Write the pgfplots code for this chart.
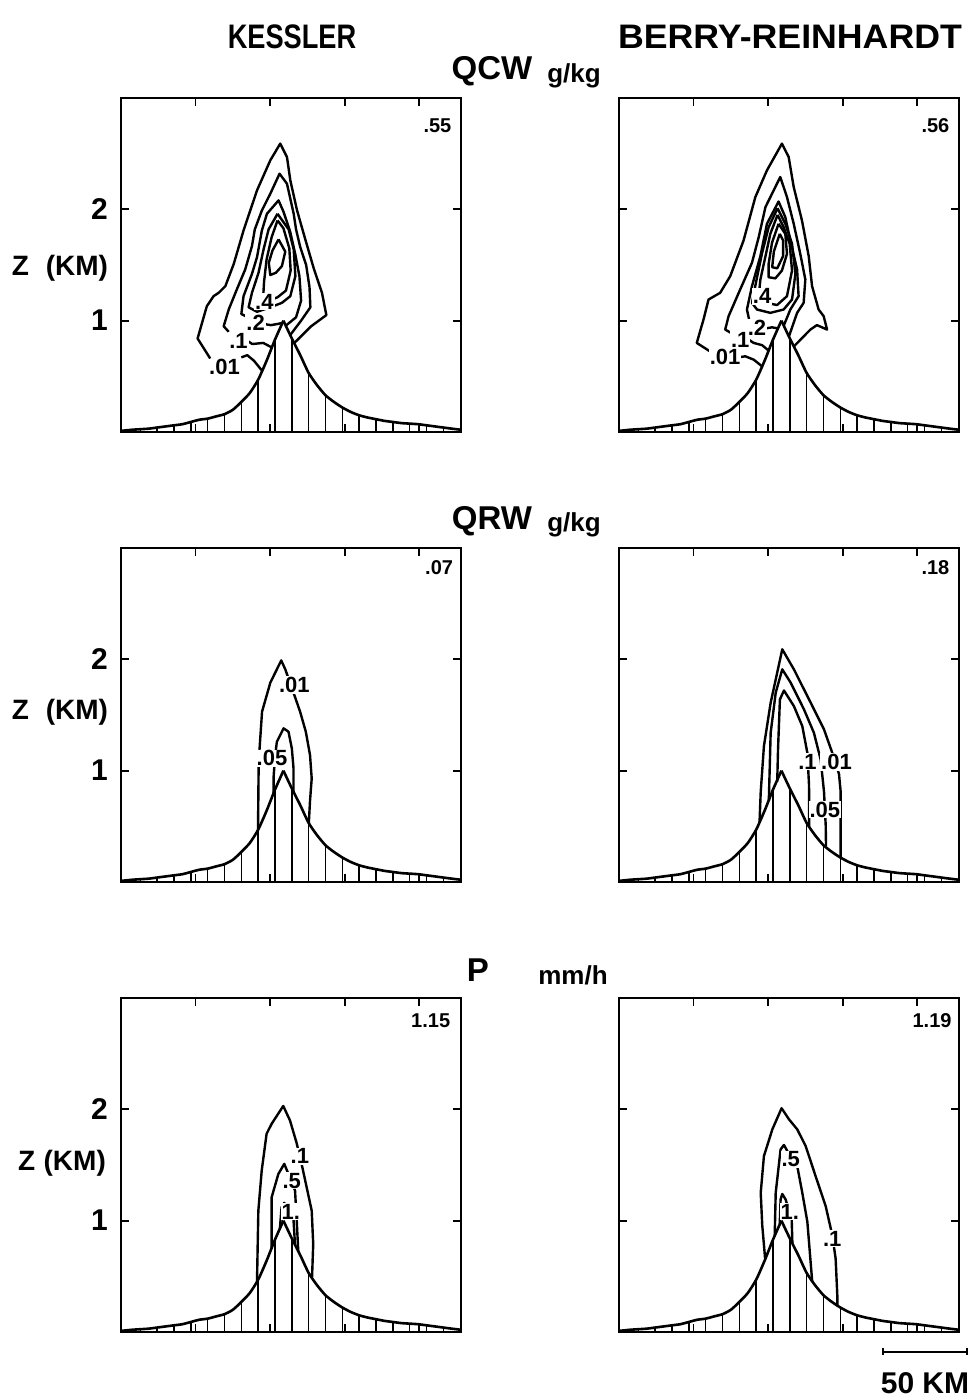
\documentclass[border=0pt]{standalone}
\usepackage{fontspec}
\setmainfont{Liberation Sans}
\usepackage{pgfplots}
\pgfplotsset{compat=1.18}
\usepackage{pgfplotstable}

% terrain profile (km, km)
\pgfplotstableread{
x h
0 0.01
1.5 0.012
6.5 0.02
11.5 0.025
16.5 0.03
21.5 0.04
26.5 0.05
31.5 0.06
36.5 0.07
41.5 0.09
46.5 0.11
51.5 0.12
56.5 0.14
61.5 0.16
66.5 0.20
71.5 0.27
76.5 0.35
81.5 0.47
86.5 0.64
91.5 0.83
96.5 1.0
101.5 0.84
106.5 0.69
111.5 0.53
116.5 0.42
121.5 0.33
126.5 0.27
131.5 0.22
136.5 0.18
141.5 0.15
146.5 0.13
151.5 0.115
156.5 0.10
161.5 0.09
166.5 0.08
171.5 0.075
176.5 0.07
181.5 0.06
186.5 0.05
191.5 0.04
196.5 0.03
202 0.02
}\mtn

% hatching at the grid points
\pgfplotstableread{
x h
1.5 0.012
11.5 0.025
21.5 0.04
31.5 0.06
41.5 0.09
51.5 0.12
61.5 0.16
71.5 0.27
81.5 0.47
91.5 0.83
101.5 0.84
111.5 0.53
121.5 0.33
131.5 0.22
141.5 0.15
151.5 0.115
161.5 0.09
171.5 0.075
181.5 0.06
191.5 0.04
}\hatch

\pgfplotsset{
  panel/.style={
    anchor=south west,
    scale only axis, width=170pt, height=167pt,
    xmin=0, xmax=202, ymin=0, ymax=3,
    xtick={44.3,88.6,132.9,177.2}, xticklabels={},
    ytick={1,2}, yticklabels={},
    tick align=inside, major tick length=4pt,
    axis line style={line width=1.1pt},
    every tick/.style={black, line width=0.9pt},
  },
  lefttk/.style={yticklabels={1,2},
    yticklabel style={font=\bfseries\fontsize{15}{15}\selectfont, xshift=-3pt}},
  cont/.style={black, line width=1.2pt, line join=round, mark=none},
}
\tikzset{
  lab/.style={font=\bfseries\fontsize{11}{11}\selectfont, inner sep=0.5pt, fill=white},
  corner/.style={font=\bfseries\fontsize{10}{10}\selectfont, inner sep=0pt},
  zlab/.style={font=\bfseries\fontsize{14}{14}\selectfont},
}
% hatching, then the two flanks of the ridge, smooth on each side of the peak
\newcommand\mountain{%
  \addplot[ycomb, black, line width=0.7pt, mark=none] table {\hatch};
  \addplot[black, line width=1.3pt, mark=none, smooth, tension=0.4,
    restrict x to domain=0:96.5] table {\mtn};
  \addplot[black, line width=1.3pt, mark=none, smooth, tension=0.4,
    restrict x to domain=96.5:202] table {\mtn};
}

\begin{document}
\begin{tikzpicture}
\path[use as bounding box] (0,0) rectangle (484pt,699pt);

% ---- row 1: QCW ----
\begin{axis}[panel, lefttk, at={(60.5pt,483pt)}]
\mountain
\addplot[cont] coordinates {(83.8,0.55) (79,0.64) (75,0.69) (71.5,0.67)};
\addplot[cont] coordinates {(53,0.66) (45.5,0.84) (51,1.13) (55,1.22) (58,1.25) (62,1.31) (67,1.51) (72.8,1.81) (80.8,2.17) (88.7,2.44) (94.6,2.59) (98.6,2.47) (100.6,2.26) (104.6,1.99) (109.5,1.73) (114.5,1.47) (119.4,1.25) (122,1.05) (113,0.95) (103,0.80)};
\addplot[cont] coordinates {(75,0.82) (78,0.79) (84.5,0.80) (89.5,0.76)};
\addplot[cont] coordinates {(64,0.90) (61,0.95) (64,1.10) (68.8,1.28) (73.8,1.46) (77.8,1.67) (79.5,1.82) (83.7,1.99) (88.7,2.14) (94.2,2.32) (98.6,2.23) (102.6,1.96) (104,1.82) (106.5,1.66) (110,1.50) (112,1.30) (112.5,1.12) (107,1.0) (100.5,0.87)};
\addplot[cont] coordinates {(85,0.97) (89,0.96) (93,0.97) (95.8,0.98)};
\addplot[cont] coordinates {(75.5,1.03) (71.5,1.06) (72.8,1.22) (77.8,1.42) (80.8,1.57) (83.7,1.81) (86.7,1.96) (93.6,2.08) (96.5,1.98) (100.5,1.80) (103.5,1.60) (106,1.40) (107,1.18) (104,1.03) (98.3,0.96)};
\addplot[cont] coordinates {(93,1.96) (87.7,1.82) (84.7,1.64) (81.7,1.43) (77.8,1.25) (75.8,1.12) (80.8,1.08) (88.7,1.12) (95.6,1.16) (100.6,1.22) (103.6,1.40) (102.6,1.64) (99.6,1.82) (93,1.96)};
\addplot[cont] coordinates {(93,1.90) (89.5,1.75) (86.5,1.55) (85,1.35) (84.5,1.22) (88,1.18) (93,1.21) (98,1.27) (100.8,1.45) (100,1.65) (96.5,1.83) (93,1.90)};
\addplot[cont] coordinates {(93.6,1.73) (90,1.63) (87.8,1.52) (88.7,1.41) (92,1.43) (95.6,1.49) (97.6,1.62) (93.6,1.73)};
\node[lab] at (axis cs:61.5,0.58) {.01};
\node[lab] at (axis cs:69.8,0.82) {.1};
\node[lab] at (axis cs:80,0.98) {.2};
\node[lab] at (axis cs:85.2,1.17) {.4};
\node[corner] at (axis cs:188,2.75) {.55};
\end{axis}

\begin{axis}[panel, at={(309.5pt,483pt)}]
\mountain
\addplot[cont] coordinates {(85,0.59) (80,0.65) (75,0.68) (71,0.67)};
\addplot[cont] coordinates {(54.5,0.72) (46.2,0.80) (50.2,1.01) (53.2,1.19) (60.1,1.25) (66.1,1.40) (74,1.72) (81,2.11) (87.9,2.35) (96.8,2.59) (100.8,2.47) (103.8,2.20) (108.7,1.90) (112.7,1.58) (114.7,1.31) (118.6,1.10) (121.6,1.04) (123.6,0.92) (117.6,0.96) (113.7,0.92) (104,0.77)};
\addplot[cont] coordinates {(77,0.83) (80,0.80) (85,0.78) (89,0.73)};
\addplot[cont] coordinates {(66.5,0.89) (63.1,0.92) (65.1,1.04) (72,1.28) (79,1.52) (83,1.75) (87,2.02) (95.8,2.29) (99.8,2.11) (103.8,1.87) (107.7,1.60) (110.7,1.37) (109.7,1.16) (105.8,1.07) (101,0.86)};
\addplot[cont] coordinates {(87,0.93) (91,0.94) (94.5,0.93)};
\addplot[cont] coordinates {(77.6,0.99) (76,1.1) (79,1.31) (84,1.58) (87.9,1.87) (94.8,2.07) (98.8,1.93) (101.8,1.72) (105.8,1.46) (106.7,1.22) (101.8,1.10) (98,0.96)};
\addplot[cont] coordinates {(94.2,2.01) (88.9,1.84) (84.9,1.60) (82,1.39) (79,1.16) (82,1.10) (89.9,1.07) (97.8,1.10) (102.8,1.19) (104.8,1.42) (102.8,1.69) (98.8,1.87) (94.2,2.01)};
\addplot[cont] coordinates {(94.2,1.95) (89.9,1.78) (86.9,1.57) (84,1.37) (83,1.22) (87.9,1.16) (93.9,1.14) (99.8,1.22) (102.8,1.45) (101.4,1.69) (97.8,1.84) (94.2,1.95)};
\addplot[cont] coordinates {(94.8,1.87) (90.9,1.70) (88.9,1.51) (88.9,1.39) (92.9,1.38) (96.8,1.45) (99.8,1.60) (98.8,1.78) (94.8,1.87)};
\addplot[cont] coordinates {(95.5,1.78) (92,1.62) (91,1.48) (94,1.47) (97.5,1.58) (97.5,1.72) (95.5,1.78)};
\node[lab] at (axis cs:63,0.67) {.01};
\node[lab] at (axis cs:72,0.83) {.1};
\node[lab] at (axis cs:82,0.94) {.2};
\node[lab] at (axis cs:85,1.22) {.4};
\node[corner] at (axis cs:188,2.75) {.56};
\end{axis}

% ---- row 2: QRW ----
\begin{axis}[panel, lefttk, at={(60.5pt,258pt)}]
\mountain
\addplot[cont] coordinates {(81.4,0.47) (81.8,1.08) (83.8,1.53) (88.7,1.79) (95.2,1.99) (97.6,1.91) (102.5,1.70) (106.4,1.53) (109.8,1.35) (112.3,1.14) (113.3,0.93) (112.3,0.73) (111.6,0.53)};
\addplot[cont] coordinates {(90.7,0.80) (90.7,0.95) (91.5,1.12) (92.6,1.26) (96.6,1.38) (99.5,1.35) (101.5,1.20) (102.5,1.02) (102.5,0.81)};
\node[lab] at (axis cs:103,1.77) {.01};
\node[lab] at (axis cs:89.7,1.11) {.05};
\node[corner] at (axis cs:189,2.82) {.07};
\end{axis}

\begin{axis}[panel, at={(309.5pt,258pt)}]
\mountain
\addplot[cont] coordinates {(83.5,0.54) (84.2,0.81) (86.1,1.22) (90.1,1.61) (97,2.09) (103.9,1.91) (113.9,1.61) (121.8,1.37) (126.7,1.16) (130.7,0.97) (131.7,0.81) (131.7,0.50) (131.7,0.22)};
\addplot[cont] coordinates {(89,0.73) (89.5,1.0) (90.1,1.34) (93.1,1.70) (97,1.91) (102,1.79) (109.9,1.55) (115.8,1.34) (119.8,1.10) (121.8,0.81) (122.8,0.51) (123,0.32)};
\addplot[cont] coordinates {(94,0.90) (94.5,1.20) (95,1.40) (95.6,1.64) (98,1.72) (103.9,1.58) (108.9,1.40) (111.9,1.16) (112.9,0.87) (113,0.50)};
\node[lab] at (axis cs:112,1.08) {.1};
\node[lab] at (axis cs:129.2,1.08) {.01};
\node[lab] at (axis cs:122.3,0.65) {.05};
\node[corner] at (axis cs:188,2.82) {.18};
\end{axis}

% ---- row 3: P ----
\begin{axis}[panel, lefttk, at={(60.5pt,33pt)}]
\mountain
\addplot[cont] coordinates {(80.8,0.45) (81.6,1.09) (83.6,1.45) (86.5,1.78) (89.5,1.87) (96.4,2.03) (100.4,1.90) (104.3,1.70) (107.3,1.51) (110.3,1.30) (113.3,1.09) (114.2,0.79) (113.5,0.49)};
\addplot[cont] coordinates {(89.5,0.75) (89.5,1.21) (93.5,1.42) (97,1.51) (100,1.40) (103.4,1.27) (104.3,1.03) (105.3,0.73)};
\addplot[cont] coordinates {(94.4,0.93) (95.4,1.12) (97,1.16) (99,1.09) (102.4,1.03) (103.4,0.78)};
\node[lab] at (axis cs:106.3,1.58) {.1};
\node[lab] at (axis cs:101.4,1.36) {.5};
\node[lab] at (axis cs:100.9,1.08) {1.};
\node[corner] at (axis cs:184,2.8) {1.15};
\end{axis}

\begin{axis}[panel, at={(309.5pt,33pt)}]
\mountain
\addplot[cont] coordinates {(86.8,0.66) (85.1,0.96) (84.2,1.25) (86.1,1.58) (91.1,1.82) (96.6,2.01) (101,1.91) (105.9,1.82) (110.9,1.67) (116.8,1.40) (122.8,1.13) (126.7,0.87) (128.7,0.66) (129.7,0.33) (129.7,0.23)};
\addplot[cont] coordinates {(92.5,0.86) (93.1,1.25) (96,1.64) (98,1.68) (102,1.57) (105.9,1.49) (108.9,1.25) (111.9,0.99) (114.8,0.45)};
\addplot[cont] coordinates {(95.5,0.97) (96,1.19) (97,1.24) (99,1.19) (102.6,1.01) (103,0.80)};
\node[lab] at (axis cs:126.7,0.84) {.1};
\node[lab] at (axis cs:102,1.55) {.5};
\node[lab] at (axis cs:101.5,1.08) {1.};
\node[corner] at (axis cs:186,2.8) {1.19};
\end{axis}

% ---- titles and labels ----
\node[font=\bfseries\fontsize{17}{17}\selectfont] at (146pt,680.5pt) {\scalebox{0.8}[1]{KESSLER}};
\node[font=\bfseries\fontsize{17}{17}\selectfont] at (395pt,680.5pt) {\scalebox{1.05}[1]{BERRY-REINHARDT}};
\node[font=\bfseries\fontsize{16.5}{16.5}\selectfont] at (246pt,663.5pt) {QCW};
\node[font=\bfseries\fontsize{13}{13}\selectfont] at (287pt,661pt) {g/kg};
\node[font=\bfseries\fontsize{16.5}{16.5}\selectfont] at (246pt,438.5pt) {QRW};
\node[font=\bfseries\fontsize{13}{13}\selectfont] at (287pt,436.5pt) {g/kg};
\node[font=\bfseries\fontsize{16.5}{16.5}\selectfont] at (239pt,214pt) {P};
\node[font=\bfseries\fontsize{13}{13}\selectfont] at (286.5pt,211.5pt) {mm/h};
\node[zlab] at (30pt,565pt) {Z\hspace{0.6em}(KM)};
\node[zlab] at (30pt,343pt) {Z\hspace{0.6em}(KM)};
\node[zlab] at (31pt,117.5pt) {Z\hspace{0.3em}(KM)};

% scale bar
\draw[line width=1.1pt] (441.5pt,23pt) -- (483.5pt,23pt);
\draw[line width=0.8pt] (441.5pt,21.5pt) -- (441.5pt,25pt) (483.5pt,21.5pt) -- (483.5pt,25pt);
\node[font=\bfseries\fontsize{15}{15}\selectfont] at (462.5pt,7.5pt) {50 KM};
\end{tikzpicture}
\end{document}
